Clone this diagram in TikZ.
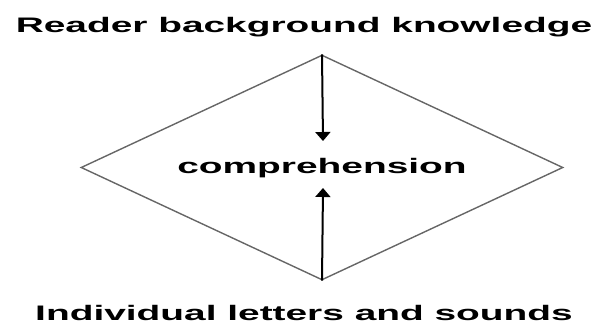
\documentclass[tikz,border=0pt]{standalone}
\usepackage{fontspec}
\setmainfont{Liberation Sans}[FakeStretch=1.85]
\usetikzlibrary{arrows.meta,shapes.geometric}

\begin{document}
\begin{tikzpicture}[
  x=1pt, y=-1pt,
  lbl/.style={font=\fontsize{21}{24}\selectfont\bfseries, inner sep=0pt, anchor=base},
  dia/.style={draw=black!60, line width=1.4pt, diamond, minimum width=482pt, minimum height=225pt, inner sep=0pt},
  >={Triangle[width=15pt,length=9pt]}, line width=2pt
]
  \useasboundingbox (0,0) rectangle (602,323);

  \node[lbl] (top) at (304,33)  {Reader background knowledge};
  \node[lbl] (bot) at (304,320) {Individual letters and sounds};
  \node[dia] (kite) at (322,167.5) {};
  \node[lbl, anchor=center] (comp) at (322,168) {comprehension};

  \coordinate (downend) at (323,141);
  \coordinate (upend)   at (323,188);
  \draw[->] (kite.north) -- (downend);
  \draw[->] (kite.south) -- (upend);
\end{tikzpicture}
\end{document}
